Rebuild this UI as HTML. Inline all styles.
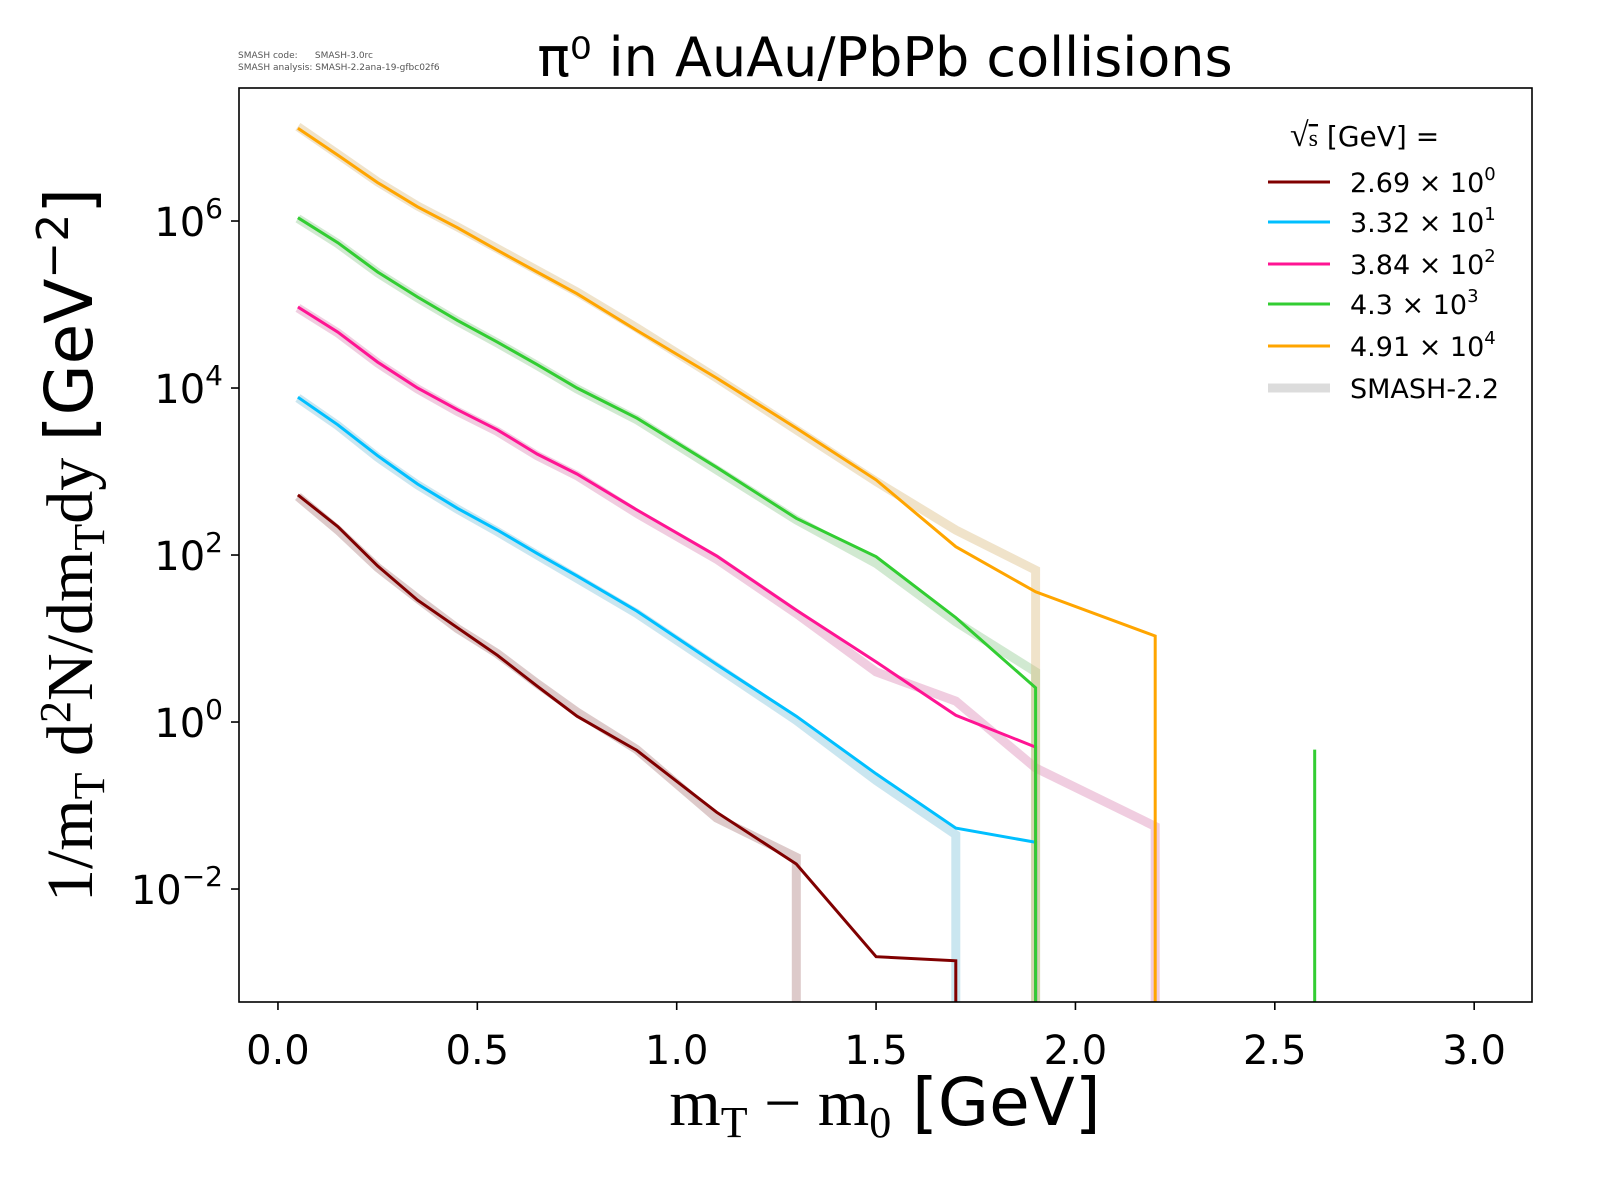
<!DOCTYPE html>
<html><head><meta charset="utf-8"><style>
html,body{margin:0;padding:0;background:#fff;}
svg{display:block;font-family:"DejaVu Sans","Liberation Sans",sans-serif;}
</style></head><body>
<svg id="chart" width="1600" height="1200" viewBox="0 0 1600 1200">
<rect width="1600" height="1200" fill="#fff"/>
<text x="238" y="58" font-size="9" fill="#555" xml:space="preserve">SMASH code:      SMASH-3.0rc</text>
<text x="238" y="70" font-size="9" fill="#555">SMASH analysis: SMASH-2.2ana-19-gfbc02f6</text>
<text x="885" y="76" font-size="54" text-anchor="middle">π⁰ in AuAu/PbPb collisions</text>
<g id="plot"></g>
<rect x="239" y="88" width="1293" height="914" fill="none" stroke="#000" stroke-width="1.6"/>
<g id="ticks"></g>
<text x="885" y="1125" font-size="66" text-anchor="middle"><tspan font-family="Liberation Serif,serif">m<tspan font-size="44" dy="12">T</tspan><tspan dy="-12"> − m</tspan><tspan font-size="44" dy="12">0</tspan></tspan><tspan dy="-12"> [GeV]</tspan></text>
<text transform="translate(92,545) rotate(-90)" font-size="66" text-anchor="middle"><tspan font-family="Liberation Serif,serif">1/m<tspan font-size="44" dy="12">T</tspan><tspan dy="-12"> d</tspan><tspan font-size="44" dy="-22">2</tspan><tspan dy="22">N/dm</tspan><tspan font-size="44" dy="12">T</tspan><tspan dy="-12">dy </tspan></tspan>[GeV<tspan font-size="44" dy="-24">−2</tspan><tspan dy="24">]</tspan></text>
<g id="legend">
<text x="1290" y="146" font-size="28"><tspan font-family="Liberation Serif,serif" font-size="34">√<tspan font-size="24" text-decoration="overline">s</tspan></tspan>  [GeV] =</text>
</g>
</svg>
<script>
const xs = [0.05,0.15,0.25,0.35,0.45,0.55,0.65,0.75,0.9,1.1,1.3,1.5,1.7,1.9,2.2];
const energies = ["2.69","3.32","3.84","4.3","4.91"];
const exps = ["0","1","2","3","4"];
const colors = ["#800000","#00bfff","#ff1493","#32cd32","#ffa500"];
// log10 values
const brownLog = [2.72,2.34,1.87,1.46,1.13,0.80,0.43,0.07,-0.34,-1.08,-1.70,-2.81,-2.86];
const cyanLog = [3.89,3.56,3.19,2.85,2.56,2.30,2.02,1.75,1.33,0.69,0.07,-0.62,-1.27,-1.44];
const magentaLog = [4.97,4.67,4.31,4.00,3.74,3.50,3.21,2.97,2.54,1.99,1.34,0.72,0.08,-0.30];
const greenLog = [6.04,5.74,5.39,5.09,4.81,4.55,4.28,4.00,3.64,3.05,2.44,1.98,1.25,0.41];
const orangeLog = [7.11,6.79,6.46,6.17,5.92,5.65,5.39,5.13,4.69,4.12,3.52,2.90,2.10,1.56,1.03];
const smashBrown = [2.70,2.30,1.85,1.48,1.12,0.82,0.46,0.12,-0.33,-1.15,-1.62];
const smashCyan = [3.88,3.55,3.17,2.84,2.55,2.28,2.00,1.72,1.30,0.66,0.02,-0.70,-1.35];
const smashMagenta = [4.96,4.66,4.30,3.99,3.72,3.48,3.19,2.95,2.50,1.95,1.30,0.60,0.25,-0.55,-1.25];
const smashGreen = [6.03,5.73,5.38,5.08,4.80,4.54,4.27,3.99,3.62,3.02,2.42,1.90,1.20,0.60];
const smashOrange = [7.13,6.80,6.47,6.18,5.93,5.67,5.41,5.15,4.72,4.12,3.50,2.88,2.30,1.82];
const spikeX = 2.6, spikeLog = -0.33;
const xTicks = [0.0,0.5,1.0,1.5,2.0,2.5,3.0];
const yTicks = [-2,0,2,4,6];
const xMin=-0.0977, xMax=3.145, yMin=-3.353, yMax=7.593;
const L=239,R=1532,T=88,B=1002;
const sx=v=>L+(v-xMin)/(xMax-xMin)*(R-L);
const sy=v=>B-(v-yMin)/(yMax-yMin)*(B-T);
const NS="http://www.w3.org/2000/svg";
const plot=document.getElementById('plot'), ticks=document.getElementById('ticks'), legend=document.getElementById('legend');
function mk(tag,attrs,parent){const e=document.createElementNS(NS,tag);for(const k in attrs)e.setAttribute(k,attrs[k]);parent.appendChild(e);return e;}
function pathFor(vals,drop){let d='';vals.forEach((v,i)=>{d+=(i?'L':'M')+sx(xs[i]).toFixed(1)+','+sy(v).toFixed(1);});if(drop){d+='L'+sx(xs[vals.length-1]).toFixed(1)+','+(B+5);}return d;}
const cp=mk('clipPath',{id:'clip'},mk('defs',{},plot));mk('rect',{x:L,y:T,width:R-L,height:B-T},cp);
const g=mk('g',{'clip-path':'url(#clip)'},plot);
const smash=[smashBrown,smashCyan,smashMagenta,smashGreen,smashOrange];
const main=[brownLog,cyanLog,magentaLog,greenLog,orangeLog];
const names=['brown','cyan','magenta','green','orange'];
smash.forEach((s,i)=>{
 const p0=mk('path',{d:pathFor(s,true),fill:'none',stroke:'#c8c8c8',"stroke-opacity":0.3,'stroke-width':9},g);
 
 
 const p=mk('path',{d:pathFor(s,true),fill:'none',stroke:colors[i],"stroke-opacity":0.15,'stroke-width':9},g);
 
 
});
main.forEach((s,i)=>{
 const p=mk('path',{d:pathFor(s,true),fill:'none',stroke:colors[i],'stroke-width':3},g);
 
 
});
const sp=mk('line',{x1:sx(spikeX),x2:sx(spikeX),y1:sy(spikeLog),y2:B+5,stroke:colors[3],'stroke-width':3},g);


xTicks.forEach(t=>{
 const x=sx(t);
 mk('line',{x1:x,x2:x,y1:B,y2:B+8,stroke:'#000','stroke-width':1.6},ticks);
 const tx=mk('text',{x:x,y:B+62,'font-size':40,'text-anchor':'middle'},ticks);
 tx.textContent=t.toFixed(1);
 
 
});
yTicks.forEach(t=>{
 const y=sy(t);
 mk('line',{x1:L-8,x2:L,y1:y,y2:y,stroke:'#000','stroke-width':1.6},ticks);
 const tx=mk('text',{x:L-16,y:y+15,'font-size':40,'text-anchor':'end'},ticks);
 tx.innerHTML='10<tspan font-size="28" dy="-18">'+(t<0?'−'+(-t):t)+'</tspan>';
 
 
});
const ly=[182,222,264,304,346];
energies.forEach((e,i)=>{
 const l=mk('line',{x1:1268,x2:1330,y1:ly[i],y2:ly[i],stroke:colors[i],'stroke-width':3},legend);
 
 
 const t=mk('text',{x:1350,y:ly[i]+10,'font-size':27},legend);
 t.innerHTML=e+' × 10<tspan font-size="18" dy="-12">'+exps[i]+'</tspan>';
 
 
});
const sl=mk('line',{x1:1268,x2:1330,y1:388,y2:388,stroke:'#dcdcdc','stroke-width':9},legend);


const st=mk('text',{x:1350,y:398,'font-size':27},legend);
st.textContent='SMASH-2.2';


</script>
</body></html>
